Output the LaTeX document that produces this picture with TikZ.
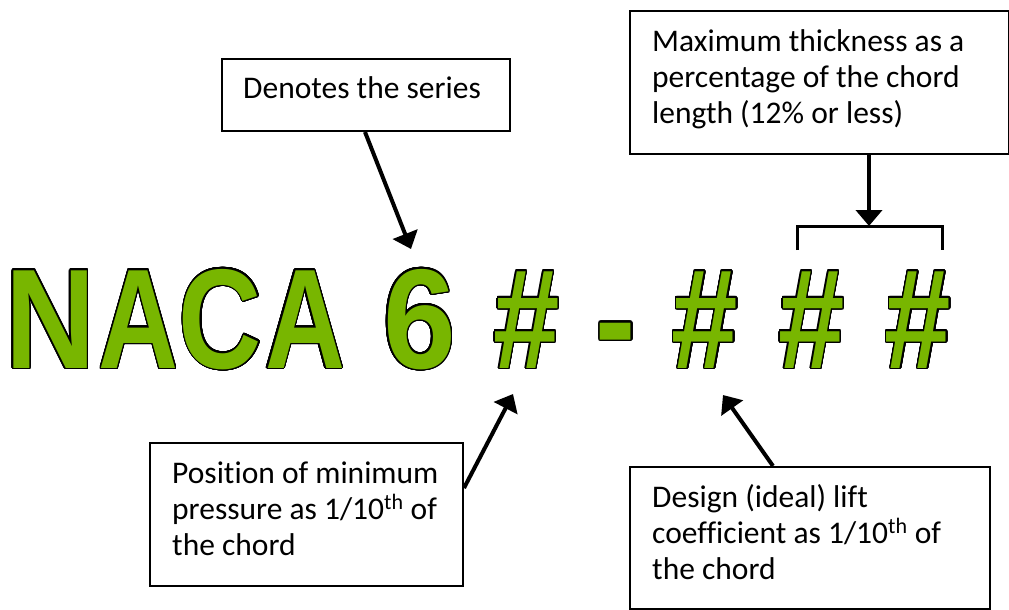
\documentclass[tikz,border=0pt]{standalone}
\usepackage{fontspec}
\setmainfont{Carlito}[Ligatures=NoCommon]
\newfontfamily\glyphfont{Liberation Sans}
\usepackage{contour}
\contourlength{1.6pt}
\contournumber{32}
\usetikzlibrary{arrows.meta,calc}
\definecolor{nacagreen}{RGB}{120,182,0}
\tikzset{
  labelbox/.style={draw=black, line width=2pt, rectangle, anchor=north west, inner sep=0pt},
  labeltext/.style={anchor=base west, align=left, inner sep=0pt, font=\fontsize{31.5}{36}\selectfont},
  pointer/.style={line width=4pt, -{Triangle[length=16pt,width=26pt]}},
  bracketline/.style={line width=3pt},
  glyph/.style={anchor=base, inner sep=0pt, font=\fontsize{142}{142}\glyphfont\bfseries, text=nacagreen},
}
% one outlined, horizontally squeezed character of the designation
\newcommand{\nacaglyph}[2]{\scalebox{#1}[1]{\contour{black}{#2}}}
\begin{document}
\begin{tikzpicture}[x=1pt,y=-1pt]
\useasboundingbox (0,0) rectangle (1009,610);

% designation characters
\node[glyph] (gN)  at (50.5,368)  {\nacaglyph{0.88}{N}};
\node[glyph] (gA1) at (138.5,368) {\nacaglyph{0.78}{A}};
\node[glyph] (gC)  at (220.5,368) {\nacaglyph{0.81}{C}};
\node[glyph] (gA2) at (305,368)   {\nacaglyph{0.78}{A}};
\node[glyph] (g6)  at (419.5,368) {\nacaglyph{0.92}{6}};
\node[glyph] (h1)  at (526.5,368) {\nacaglyph{0.84}{\#}};
\node[glyph] (dash) at (616,368)  {\nacaglyph{0.85}{-}};
\node[glyph] (h2)  at (705,368)   {\nacaglyph{0.84}{\#}};
\node[glyph] (h3)  at (811.5,368) {\nacaglyph{0.84}{\#}};
\node[glyph] (h4)  at (918,368)   {\nacaglyph{0.84}{\#}};

% label boxes
\node[labelbox, minimum width=288pt, minimum height=72pt]  (series) at (221,58) {};
\node[labelbox, minimum width=379pt, minimum height=143pt] (thick)  at (629,10) {};
\node[labelbox, minimum width=313pt, minimum height=143pt] (pos)    at (149,442) {};
\node[labelbox, minimum width=360pt, minimum height=142pt] (design) at (629,466) {};

% texts: anchored at the baseline of their last line
\node[labeltext] (seriestext) at ($(series.north west)+(22,41)$) {Denotes the series};
\node[labeltext] (thicktext)  at ($(thick.north west)+(23,113)$)
  {Maximum thickness as a\\percentage of the chord\\length (12\% or less)};
\node[labeltext] (postext)    at ($(pos.north west)+(23,113)$)
  {Position of minimum\\pressure as 1/10\textsuperscript{th} of\\the chord};
\node[labeltext] (designtext) at ($(design.north west)+(23,113)$)
  {Design (ideal) lift\\coefficient as 1/10\textsuperscript{th} of\\the chord};

% bracket over the last two digits
\coordinate (bracketmid) at (869,226);
\draw[bracketline] (797,250) -- (797,226) -- (942,226) -- (942,250);

% pointers
\coordinate (seriestip) at (411,249);
\coordinate (postip)    at (513,394);
\coordinate (designtip) at (723,395);
\draw[pointer] ($(series.south west)+(144,0)$) -- (seriestip);
\draw[pointer] ($(thick.south west)+(240,0)$) -- (bracketmid);
\draw[pointer] ($(pos.north east)+(0,46)$) -- (postip);
\draw[pointer] ($(design.north west)+(144,0)$) -- (designtip);
\end{tikzpicture}
\end{document}
